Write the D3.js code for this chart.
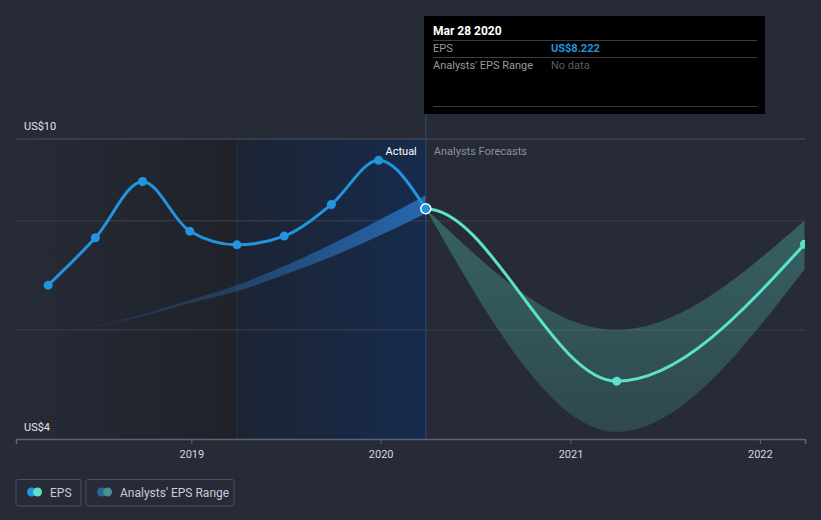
<!DOCTYPE html>
<html>
<head>
<meta charset="utf-8">
<script src="https://cdn.jsdelivr.net/npm/d3@7"></script>
<style>
  body { margin: 0; background: #262b37; }
  svg { display: block; font-family: Roboto, "Noto Sans", sans-serif; }
</style>
</head>
<body>
<div id="chart"></div>
<script>
// actual EPS (quarterly)
const actualDates = ["2018-03-31", "2018-06-30", "2018-09-29", "2018-12-29", "2019-03-30",
                     "2019-06-29", "2019-09-28", "2019-12-28", "2020-03-28"];
const actualEps = [6.82, 7.69, 8.72, 7.81, 7.56, 7.72, 8.30, 9.11, 8.222];

// past analyst range (blue wedge)
const pastLow  = [5.85, 6.05, 6.25, 6.49, 6.71, 7.01, 7.34, 7.72, 8.14];
const pastHigh = [5.85, 6.07, 6.29, 6.55, 6.82, 7.17, 7.57, 8.01, 8.47];

// forecast EPS
const forecastDates = ["2020-03-28", "2021-03-31", "2022-03-28"];
const forecastEps = [8.222, 5.06, 7.57];
const forecastLow = [8.222, 4.13, 7.11];
const forecastHigh = [8.222, 6.0, 8.0];

const yTickLabels = ["US$10", "US$4"];
const xTickYears = [2019, 2020, 2021, 2022];

const W = 821, H = 520;
const LEFT = 16, RIGHT = 805, TOP = 139, BOTTOM = 439;
const BLUE = "#2394df", TEAL = "#5de2c9";

const parse = d3.timeParse("%Y-%m-%d");

// monotone curve that leaves the first point level
function flatStartMonotone(context) {
    const c = d3.curveMonotoneX(context);
    let first = true;
    return {
        areaStart() { c.areaStart(); },
        areaEnd() { c.areaEnd(); },
        lineStart() { first = true; c.lineStart(); },
        lineEnd() { c.lineEnd(); },
        point(px, py) {
            if (first) { c.point(px - 0.5, py); first = false; }
            c.point(px, py);
        }
    };
}

const svg = d3.select("#chart").append("svg")
    .attr("width", W)
    .attr("height", H)

const defs = svg.append("defs")

const x = d3.scaleTime()
    .domain([new Date(2018, 0, 28), new Date(2022, 2, 29)])
    .range([LEFT, RIGHT])

const y = d3.scaleLinear()
    .domain([4, 9.5])
    .range([BOTTOM, TOP])

svg.append("rect").attr("width", W).attr("height", H).attr("fill", "#262b37")

// gradients for the shaded past regions
const gDark = defs.append("linearGradient").attr("id", "gDark")
gDark.append("stop").attr("offset", "0%").attr("stop-color", "#262b37")
gDark.append("stop").attr("offset", "100%").attr("stop-color", "#1f2229")

const gBlue = defs.append("linearGradient").attr("id", "gBlue")
gBlue.append("stop").attr("offset", "0%").attr("stop-color", "#1d2434")
gBlue.append("stop").attr("offset", "100%").attr("stop-color", "#162b4d")

const gWedge = defs.append("linearGradient").attr("id", "gWedge")
    .attr("gradientUnits", "userSpaceOnUse")
    .attr("x1", x(parse(actualDates[0]))).attr("x2", x(parse("2020-03-28")))
gWedge.append("stop").attr("offset", "0%").attr("stop-color", "#2a72bd").attr("stop-opacity", 0)
gWedge.append("stop").attr("offset", "45%").attr("stop-color", "#2a72bd").attr("stop-opacity", 0.35)
gWedge.append("stop").attr("offset", "100%").attr("stop-color", "#2a72bd").attr("stop-opacity", 0.85)

const gTeal = defs.append("linearGradient").attr("id", "gTeal")
    .attr("x1", 0).attr("x2", 0).attr("y1", 0).attr("y2", 1)
gTeal.append("stop").attr("offset", "0%").attr("stop-color", TEAL).attr("stop-opacity", 0.3)
gTeal.append("stop").attr("offset", "100%").attr("stop-color", TEAL).attr("stop-opacity", 0.16)

defs.append("clipPath").attr("id", "plotClip")
  .append("rect")
    .attr("x", LEFT).attr("y", 0)
    .attr("width", RIGHT - LEFT).attr("height", BOTTOM)

const splitStart = parse("2019-03-30");
const now = parse("2020-03-28");

svg.append("rect")
    .attr("x", LEFT).attr("y", TOP)
    .attr("width", x(splitStart) - LEFT).attr("height", BOTTOM - TOP)
    .attr("fill", "url(#gDark)")

svg.append("rect")
    .attr("x", x(splitStart)).attr("y", TOP)
    .attr("width", x(now) - x(splitStart)).attr("height", BOTTOM - TOP)
    .attr("fill", "url(#gBlue)")

svg.append("line")
    .attr("x1", x(splitStart)).attr("x2", x(splitStart))
    .attr("y1", TOP).attr("y2", BOTTOM)
    .attr("stroke", "#1c3152").attr("stroke-width", 1)

// grid lines
svg.selectAll(".grid")
  .data([6, 8])
  .enter().append("line")
    .attr("x1", LEFT).attr("x2", RIGHT)
    .attr("y1", d => y(d)).attr("y2", d => y(d))
    .attr("stroke", "#3a404b").attr("stroke-width", 1)

svg.append("line")
    .attr("x1", LEFT).attr("x2", RIGHT)
    .attr("y1", TOP).attr("y2", TOP)
    .attr("stroke", "#4a505c").attr("stroke-width", 1)

// y labels
svg.append("text")
    .attr("x", 24).attr("y", TOP - 9)
    .attr("font-size", "11px").attr("fill", "#e2e4e8")
    .text(yTickLabels[0])
svg.append("text")
    .attr("x", 24).attr("y", BOTTOM - 8)
    .attr("font-size", "11px").attr("fill", "#e2e4e8")
    .text(yTickLabels[1])

const plot = svg.append("g").attr("clip-path", "url(#plotClip)")

// past analyst wedge
const pastRows = actualDates.map((d, i) => ({date: parse(d), lo: pastLow[i], hi: pastHigh[i]}))
plot.append("path")
    .datum(pastRows)
    .attr("fill", "url(#gWedge)")
    .attr("d", d3.area()
        .x(d => x(d.date))
        .y0(d => y(d.lo))
        .y1(d => y(d.hi))
        .curve(d3.curveMonotoneX))

// forecast range
const fRows = forecastDates.map((d, i) => ({date: parse(d), v: forecastEps[i], lo: forecastLow[i], hi: forecastHigh[i]}))
plot.append("path")
    .datum(fRows)
    .attr("fill", "url(#gTeal)")
    .attr("d", d3.area()
        .x(d => x(d.date))
        .y0(d => y(d.lo))
        .y1(d => y(d.hi))
        .curve(d3.curveMonotoneX))

// hover line
svg.append("line")
    .attr("x1", x(now)).attr("x2", x(now))
    .attr("y1", 114).attr("y2", BOTTOM)
    .attr("stroke", "#2f4a72").attr("stroke-width", 1)

// forecast line
plot.append("path")
    .datum(fRows)
    .attr("fill", "none")
    .attr("stroke", TEAL)
    .attr("stroke-width", 3)
    .attr("d", d3.line()
        .x(d => x(d.date))
        .y(d => y(d.v))
        .curve(flatStartMonotone))

plot.selectAll(".fdot")
  .data(fRows.slice(1))
  .enter().append("circle")
    .attr("cx", d => x(d.date))
    .attr("cy", d => y(d.v))
    .attr("r", 4.5)
    .attr("fill", TEAL)

// actual line
const aRows = actualDates.map((d, i) => ({date: parse(d), v: actualEps[i]}))
plot.append("path")
    .datum(aRows)
    .attr("fill", "none")
    .attr("stroke", BLUE)
    .attr("stroke-width", 3)
    .attr("d", d3.line()
        .x(d => x(d.date))
        .y(d => y(d.v))
        .curve(d3.curveMonotoneX))

plot.selectAll(".adot")
  .data(aRows.slice(0, -1))
  .enter().append("circle")
    .attr("cx", d => x(d.date))
    .attr("cy", d => y(d.v))
    .attr("r", 4.5)
    .attr("fill", BLUE)

const last = aRows[aRows.length - 1]
svg.append("circle")
    .attr("cx", x(last.date))
    .attr("cy", y(last.v))
    .attr("r", 5)
    .attr("fill", BLUE)
    .attr("stroke", "#ffffff")
    .attr("stroke-width", 1.5)

// Actual / forecasts labels
svg.append("text")
    .attr("x", x(now) - 9).attr("y", 155)
    .attr("text-anchor", "end")
    .attr("font-size", "11px").attr("fill", "#ffffff")
    .text("Actual")
svg.append("text")
    .attr("x", x(now) + 8).attr("y", 155)
    .attr("font-size", "11px").attr("fill", "#8b9099")
    .text("Analysts Forecasts")

// x axis
const xAxisGroup = svg.append("g")
    .attr("transform", `translate(0, ${BOTTOM})`)
    .call(d3.axisBottom(x)
        .tickValues(xTickYears.map(yr => new Date(yr, 0, 1)))
        .tickFormat(d3.timeFormat("%Y"))
        .tickSize(5)
        .tickPadding(6))
xAxisGroup.select(".domain").attr("stroke", "#5f6570").attr("stroke-width", 1.5)
xAxisGroup.selectAll(".tick line").attr("stroke", "#5f6570")
xAxisGroup.selectAll("text")
    .attr("fill", "#d5d8dd")
    .attr("font-size", "11px")
    .attr("font-family", "Roboto, sans-serif")

// tooltip
const tip = svg.append("g").attr("transform", "translate(424, 16)")
tip.append("rect")
    .attr("width", 341).attr("height", 98)
    .attr("fill", "#000000")
tip.selectAll(".sep")
  .data([24.5, 41.5, 90.5])
  .enter().append("line")
    .attr("x1", 9).attr("x2", 333)
    .attr("y1", d => d).attr("y2", d => d)
    .attr("stroke", "#3d3d3d").attr("stroke-width", 1)
tip.append("text")
    .attr("x", 9).attr("y", 19)
    .attr("font-size", "12px").attr("font-weight", "bold").attr("fill", "#ffffff")
    .text("Mar 28 2020")
tip.append("text")
    .attr("x", 9).attr("y", 36)
    .attr("font-size", "11px").attr("fill", "#9a9a9a")
    .text("EPS")
tip.append("text")
    .attr("x", 127).attr("y", 36)
    .attr("font-size", "11px").attr("font-weight", "bold").attr("fill", BLUE)
    .text("US$8.222")
tip.append("text")
    .attr("x", 9).attr("y", 53)
    .attr("font-size", "11px").attr("fill", "#9a9a9a")
    .text("Analysts' EPS Range")
tip.append("text")
    .attr("x", 127).attr("y", 53)
    .attr("font-size", "11px").attr("fill", "#5c5c5c")
    .text("No data")

// legend
const legendItems = [
    {label: "EPS", x: 16, w: 65, c1: BLUE, c2: TEAL},
    {label: "Analysts' EPS Range", x: 86, w: 148, c1: "#2b6699", c2: "#4a918e"}
]
const legend = svg.selectAll(".legend")
  .data(legendItems)
  .enter().append("g")
    .attr("transform", d => `translate(${d.x}, 479.5)`)
legend.append("rect")
    .attr("width", d => d.w).attr("height", 26.5)
    .attr("rx", 2)
    .attr("fill", "none")
    .attr("stroke", "#4a505c")
legend.append("circle")
    .attr("cx", 15.5).attr("cy", 12.5).attr("r", 4.5)
    .attr("fill", d => d.c1)
legend.append("circle")
    .attr("cx", 21.5).attr("cy", 12.5).attr("r", 4.5)
    .attr("fill", d => d.c2)
legend.append("text")
    .attr("x", 34).attr("y", 17)
    .attr("font-size", "12px").attr("fill", "#c9ccd1")
    .text(d => d.label)
</script>
</body>
</html>
